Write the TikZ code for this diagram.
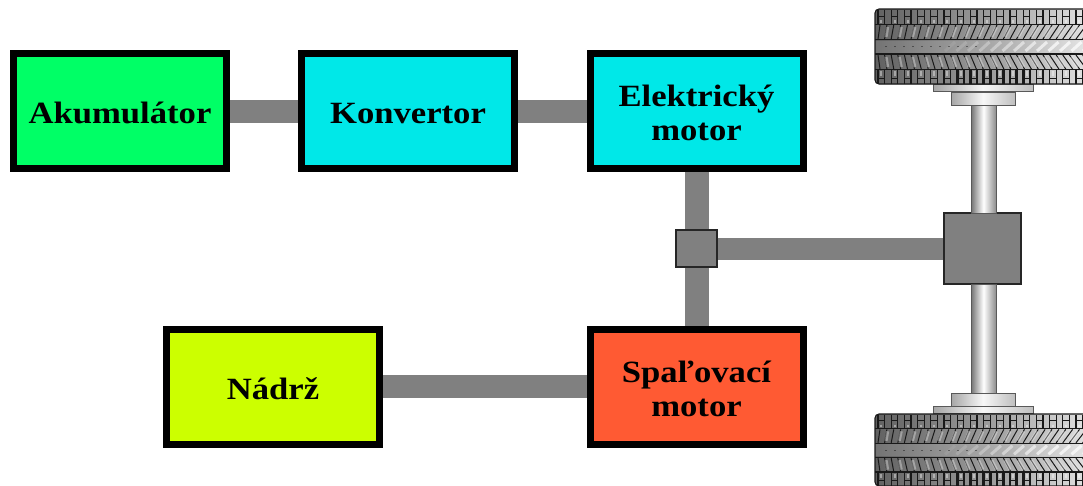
\documentclass[tikz,border=0pt]{standalone}
\usepackage{fontspec}
\setmainfont{Liberation Serif}[FakeStretch=1.12]
\usetikzlibrary{calc}
\definecolor{linkgray}{RGB}{128,128,128}
\definecolor{akucol}{RGB}{0,255,102}
\definecolor{cyancol}{RGB}{0,232,232}
\definecolor{tankcol}{RGB}{204,255,0}
\definecolor{enginecol}{RGB}{255,90,51}
\definecolor{tredge}{RGB}{25,25,25}
\newcommand{\px}{.75pt}
\newcommand{\tl}{\rule{0pt}{19.2pt}}
\newcommand{\tyretread}{%
  \fill[left color=black!62,right color=black!5,middle color=black!38,rounded corners=4*\px] (875,0) rectangle (1110,75);
  \begin{scope}
    \clip[rounded corners=4*\px] (875,0) rectangle (1110,75);
    \foreach \xx in {0,...,33}{
      \pgfmathsetmacro{\xa}{878+\xx*6.6}
      \pgfmathsetmacro{\sl}{2+\xx*.28}
      \pgfmathsetmacro{\wd}{(\xx>11 && \xx<24) ? 2.6 : 1.1}
      \pgfmathtruncatemacro{\odd}{mod(\xx,2)}
      % outer rows: H shaped blocks
      \draw[tredge,line width=1.2*\px] (\xa,1) -- ++(0,14);
      \draw[tredge,line width=\wd*\px] (\xa,61) -- ++(0,14);
      \ifnum\odd=0
        \draw[tredge,line width=.8*\px] (\xa,7) -- ++(6.6,0);
        \draw[white,opacity=.4,line width=2*\px] ($(\xa,11)+(3.3,0)$) -- ++(0,3);
        \draw[tredge,line width=.8*\px] (\xa,69) -- ++(6.6,0);
        \draw[white,opacity=.4,line width=2*\px] ($(\xa,62)+(3.3,0)$) -- ++(0,5);
      \fi
      % inner rows: slanted blocks
      \draw[tredge,line width=1*\px] (\xa,30) -- ++(\sl,-14);
      \draw[tredge,line width=1*\px] (\xa,46) -- ++(\sl,14);
      \ifnum\odd=1
        \draw[white,opacity=.35,line width=3*\px] ($(\xa,28)+(1.5,0)$) -- ++(\sl*.7,-10);
        \draw[white,opacity=.35,line width=3*\px] ($(\xa,48)+(1.5,0)$) -- ++(\sl*.7,10);
      \fi
    }
    \foreach \g in {15.5,30.5,45,60.5}{\draw[tredge,line width=1.2*\px] (875,\g) -- (1090,\g);}
    \fill[white,opacity=.12] (875,31.5) rectangle (1090,44);
    \foreach \xx in {0,...,12}{
      \pgfmathsetmacro{\xa}{945+\xx*11.5}
      \pgfmathsetmacro{\op}{min(.7,.08+\xx*.07)}
      \draw[white,opacity=\op,line width=3*\px] (\xa,42) -- ++(10,-9);
    }
    \foreach \xx in {0,...,10}{
      \pgfmathsetmacro{\xa}{885+\xx*9}
      \draw[black,opacity=.4,line width=.8*\px] (\xa,37.5) -- ++(1.5,0);
    }
  \end{scope}
  \draw[tredge,line width=1.1*\px,rounded corners=4*\px] (1110,0) -- (875,0) -- (875,75) -- (1110,75);}
\tikzset{
  every node/.append style={font=\fontsize{23.2pt}{25.5pt}\selectfont\bfseries,align=center,inner sep=0pt},
  mainbox/.style={draw=black,line width=7*\px,minimum width=213*\px,minimum height=115*\px},
  link/.style={draw=linkgray,line width=#1*\px},
  link/.default=23,
  joint/.style={draw=black!85,fill=linkgray,line width=1.3*\px},
  axle/.style={draw=black!65,line width=1*\px,minimum width=25*\px,left color=black!55,right color=black!45,middle color=white},
  hubpart/.style={draw=black!65,line width=1*\px,left color=black!35,right color=black!25,middle color=black!3}
}
\begin{document}
\begin{tikzpicture}[x=\px,y=-\px]
\useasboundingbox (0,0) rectangle (1083,486);
\clip (0,0) rectangle (1083,486);
% boxes
\node[mainbox,fill=akucol]   (aku)  at (120,111) {\tl Akumulátor};
\node[mainbox,fill=cyancol]  (konv) at (408,111) {\tl Konvertor};
\node[mainbox,fill=cyancol]  (emot) at (696.5,111) {\tl Elektrický\\motor};
\node[mainbox,fill=tankcol]  (tank) at (273,386.5) {\tl Nádrž};
\node[mainbox,fill=enginecol](icem) at (696.5,386.5) {\tl Spaľovací\\motor};
% junctions
\node[joint,minimum width=41*\px,minimum height=37*\px] (small) at (696.5,248.5) {};
\node[joint,minimum width=77*\px,minimum height=71*\px] (big) at (982.5,248.5) {};
% wheel hubs
\node[hubpart,minimum width=64*\px,minimum height=13*\px] (hubt) at (983,98.5) {};
\node[hubpart,minimum width=100*\px,minimum height=7*\px] (flat) at (983,88) {};
\node[hubpart,minimum width=64*\px,minimum height=13*\px] (hubb) at (983,399.5) {};
\node[hubpart,minimum width=100*\px,minimum height=7*\px] (flab) at (983,409.5) {};
% axles
\node[axle,minimum height=108*\px] (axt) at (983.5,159) {};
\node[axle,minimum height=109*\px] (axb) at (983.5,338.5) {};
% tyres
\begin{scope}[shift={(0,9)}]\tyretread\end{scope}
\begin{scope}[shift={(0,414)},yscale=.96]\tyretread\end{scope}
% connectors
\draw[link] (aku.east) -- (konv.west);
\draw[link] (konv.east) -- (emot.west);
\draw[link] (tank.east) -- (icem.west);
\draw[link=24] (emot.south) -- (small.north);
\draw[link=24] (small.south) -- (icem.north);
\draw[link=22] (small.east) -- (big.west);
\end{tikzpicture}
\end{document}
